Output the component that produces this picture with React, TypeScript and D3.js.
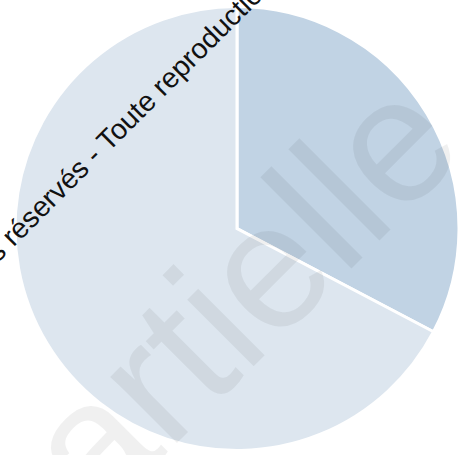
import React from "react";
import * as d3 from "d3";

// ---- data ----
const categories = ["Part A", "Part B"];
const values = [32.7, 67.3];
const colors = ["#c1d3e4", "#dde6ef"];

// ---- watermark texts ----
const smallWatermarkLeft = "Tous droits réservés -";
const smallWatermarkRight = "Toute reproduction interdite";
const bigWatermark = "partielle";

const W = 459;
const H = 455;
const cx = 237;
const cy = 228.5;
const R = 222;

export default function App() {
  const pie = d3
    .pie<number>()
    .sort(null)
    .startAngle(0)
    .endAngle(2 * Math.PI)
    .value((d) => d);
  const arcs = pie(values);
  const arc = d3.arc<d3.PieArcDatum<number>>().innerRadius(0).outerRadius(R);

  // big watermark placement (rotated -45deg), baseline along x+y = 620
  const fs = 178;
  const bSum = 620;
  const sStart = 106 - 2.834 * fs;
  const bx = (bSum + sStart * Math.SQRT2) / 2;
  const by = bSum - bx;

  // small watermark: "T" start at s=-31 on baseline x+y=261
  const sfs = 28.5;
  const ts = -31;
  const tx = (261 + ts * Math.SQRT2) / 2;
  const ty = 261 - tx;

  return (
    <svg
      width={W}
      height={H}
      style={{ position: "absolute", left: 0, top: 0, background: "#ffffff" }}
    >
      <g transform={`translate(${cx},${cy})`}>
        {arcs.map((a, i) => (
          <path
            key={categories[i]}
            d={arc(a) || ""}
            fill={colors[i]}
            stroke="#ffffff"
            strokeWidth={3}
            strokeLinejoin="miter"
          />
        ))}
      </g>
      <text
        transform={`translate(${bx},${by}) rotate(-45)`}
        fontFamily="'Liberation Sans', Arial, sans-serif"
        fontSize={fs}
        fill="#000"
        fillOpacity={0.06}
      >
        {bigWatermark}
      </text>
      <g
        transform={`translate(${tx},${ty}) rotate(-45)`}
        fontFamily="'Liberation Sans', Arial, sans-serif"
        fontSize={sfs}
        fill="#111"
      >
        <text x={-0.278 * sfs} textAnchor="end">
          {smallWatermarkLeft}
        </text>
        <text x={0} textAnchor="start">
          {smallWatermarkRight}
        </text>
      </g>
    </svg>
  );
}
